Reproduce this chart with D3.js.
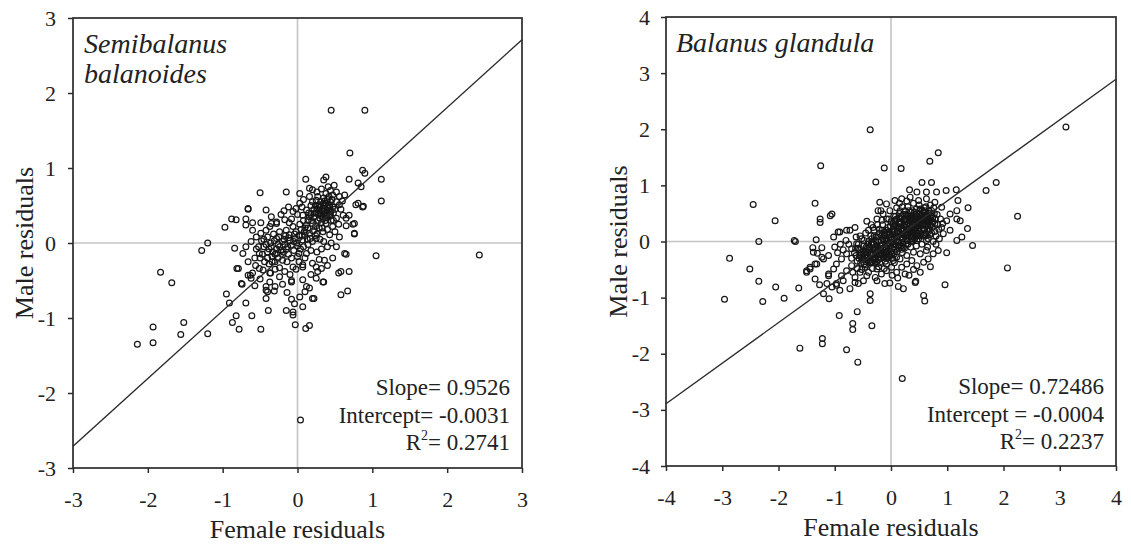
<!DOCTYPE html>
<html lang="en">
<head>
<meta charset="UTF-8">
<title>Male vs female residuals</title>
<script src="https://d3js.org/d3.v7.min.js"></script>
<style>
  body { margin: 0; background: #fff; }
  svg { display: block; font-family: 'Liberation Serif', 'Times New Roman', serif; }
</style>
</head>
<body>
<svg id="chart" width="1131" height="546"></svg>
<script>
// ---- data ----
const semiTicks = [-3, -2, -1, 0, 1, 2, 3];
const glandTicks = [-4, -3, -2, -1, 0, 1, 2, 3, 4];

// Semibalanus balanoides: [female residual, male residual]
const semiPoints = [
  [-0.50,0.67],[-0.15,0.68],[0.11,0.85],[-0.66,0.45],[-0.42,0.44],[-0.18,0.43],[-0.69,0.32],[-0.88,0.32],[-0.97,0.21],[-0.82,0.31],
  [-1.20,0.00],[-1.28,-0.10],[-1.83,-0.39],[-0.60,0.27],[-0.55,0.08],[-0.81,-0.34],[-1.68,-0.53],[-0.95,-0.68],[-0.91,-0.80],[-0.69,-0.80],
  [-0.82,-0.97],[-0.87,-1.06],[-0.78,-1.15],[-0.61,-0.97],[-0.49,-1.15],[-0.39,-0.90],[-1.20,-1.21],[-1.52,-1.06],[-1.56,-1.22],[-1.93,-1.12],
  [-1.93,-1.33],[-2.14,-1.35],[0.04,-2.36],[-0.15,-0.90],[-0.03,-1.09],[0.11,-1.14],[0.16,-1.10],[-0.06,-0.96],[0.22,-0.74],[-0.08,-0.75],
  [-0.14,-0.66],[0.07,-0.85],[-0.24,-0.45],[-0.31,-0.64],[-0.42,-0.63],[-0.57,-0.57],[-0.74,-0.55],[-0.79,-0.34],[-0.63,-0.43],[-0.36,-0.40],
  [0.45,1.77],[0.90,1.77],[0.70,1.20],[0.87,0.97],[0.90,0.93],[0.69,0.85],[1.12,0.85],[1.12,0.56],[0.81,0.80],[0.88,0.49],
  [0.81,0.53],[0.76,0.26],[0.76,0.13],[0.65,-0.15],[1.05,-0.17],[2.43,-0.16],[0.58,-0.38],[0.69,-0.38],[0.38,0.88],[0.49,0.77],
  [0.58,-0.69],[0.67,-0.64],[0.34,-0.52],[0.20,-0.74],[-0.06,-0.92],[0.12,-0.58],[-0.08,-0.52],[0.25,-0.47],[0.07,-0.32],[-0.84,-0.07],
  [-0.04,-0.81],[0.03,-0.72],[-0.08,-0.50],[-0.42,-0.74],[-0.40,-0.65],[-0.37,-0.52],[-0.42,-0.58],[-0.75,-0.54],[-0.66,-0.43],[-0.62,-0.47],
  [-0.60,-0.40],[-0.51,-0.34],[-0.46,-0.36],[-0.37,-0.40],[0.07,-0.49],[0.16,-0.60],[0.35,-0.52],[0.27,-0.38],[0.32,-0.34],[0.36,-0.23],
  [0.20,-0.27],[0.25,-0.32],[0.29,-0.22],[0.07,-0.29],[-0.06,-0.32],[0.00,-0.18],[0.12,-0.14],[0.63,-0.14],[0.52,-0.05],[0.56,0.08],
  [0.65,0.23],[0.74,0.25],[0.76,0.12],[-0.20,-0.23],[-0.28,-0.14],[-0.35,-0.05],[-0.51,-0.14],[-0.57,-0.20],[-0.66,-0.25],[-0.69,-0.05],
  [-0.73,-0.14],[-0.49,0.13],[-0.42,0.17],[-0.37,0.22],[-0.28,0.26],[-0.69,0.24],[-0.60,0.17],[-0.28,0.06],[-0.20,0.02],[-0.11,0.11],
  [-0.02,0.15],[0.07,0.04],[0.16,0.13],[0.25,0.06],[0.34,0.15],[0.43,0.11],[0.47,0.22],[0.38,0.26],[0.29,0.20],[0.20,0.26],
  [0.12,0.24],[0.03,0.25],[-0.06,0.22],[-0.15,0.17],[0.35,0.84],[0.85,0.75],[0.03,0.66],[0.16,0.73],[0.20,0.71],[0.41,0.75],
  [0.38,0.66],[0.47,0.64],[0.56,0.62],[0.63,0.64],[0.78,0.51],[0.87,0.48],[0.69,0.37],[0.65,0.33],[0.25,0.57],[0.29,0.51],
  [0.34,0.46],[0.38,0.53],[0.43,0.42],[0.47,0.48],[0.52,0.55],[0.56,0.51],[0.16,0.62],[0.03,0.53],[-0.02,0.46],[-0.06,0.42],
  [-0.66,0.46],[0.07,0.37],[0.16,0.35],[0.25,0.40],[0.34,0.33],[0.43,0.37],[0.52,0.33],[0.61,0.37],[-0.28,0.28],[-0.17,0.31],
  [-0.11,0.27],[-0.49,0.27],[-0.35,0.26],[0.30,0.40],[0.33,0.43],[0.36,0.38],[0.39,0.44],[0.41,0.50],[0.44,0.55],[0.31,0.55],
  [0.35,0.60],[0.40,0.58],[0.28,0.30],[0.32,0.27],[0.45,0.30],[0.48,0.40],[0.22,0.45],[0.18,0.50],[0.12,0.44],[0.08,0.30],
  [0.14,0.20],[0.21,0.16],[0.24,0.22],[0.10,0.10],[0.05,0.18],[-0.03,0.06],[0.00,-0.04],[-0.08,-0.03],[-0.15,-0.08],[-0.22,-0.10],
  [-0.26,-0.02],[-0.31,0.03],[-0.18,0.05],[-0.12,-0.15],[-0.05,-0.10],[0.04,-0.08],[0.14,-0.02],[0.20,0.02],[0.30,0.05],[0.35,0.02],
  [0.40,-0.05],[0.45,0.00],[0.50,0.15],[0.55,0.25],[0.58,0.45],[0.60,0.56],[-0.40,-0.12],[-0.45,-0.05],[-0.50,-0.20],[-0.44,-0.25],
  [-0.38,-0.28],[-0.30,-0.25],[-0.24,-0.33],[-0.17,-0.38],[-0.10,-0.42],[-0.02,-0.35],[0.02,-0.25],[0.10,-0.20],[0.18,-0.10],[0.26,-0.12],
  [0.32,-0.08],[-0.34,-0.18],[-0.55,-0.08],[-0.62,0.02],[-0.48,0.03],[-0.40,0.08],[-0.32,0.12],[-0.24,0.15],[-0.08,0.32],[0.00,0.38],
  [-0.12,0.48],[0.08,0.58],[0.26,0.68],[0.32,0.72],[0.44,0.70],[0.52,0.68],[-0.30,-0.58],[-0.20,-0.55],[-0.50,-0.48],[-0.56,-0.30],
  [0.40,-0.30],[0.47,-0.20],[0.55,-0.40],[0.18,-0.42],[0.10,-0.65],
  [0.22,0.35],[0.26,0.45],[0.28,0.38],[0.30,0.48],[0.33,0.35],[0.35,0.42],[0.37,0.30],[0.39,0.36],[0.42,0.46],[0.44,0.38],
  [0.46,0.58],[0.48,0.30],[0.50,0.45],[0.24,0.50],[0.27,0.62],[0.36,0.50],[0.42,0.62],[0.30,0.33],[0.18,0.38],[0.20,0.55],
  [0.14,0.30],[0.10,0.20],[0.06,0.10],[-0.01,0.00],[-0.04,0.12],[-0.10,0.03],[-0.13,-0.05],[-0.17,-0.02],[-0.20,-0.16],[-0.25,0.08],
  [-0.28,-0.08],[-0.33,-0.12],[-0.36,0.00],[-0.40,-0.20],[-0.45,0.05],[-0.47,-0.15],[-0.52,-0.05],[-0.30,-0.35],[-0.14,-0.25],[-0.08,-0.20],
  [0.02,-0.14],[0.08,-0.05],[0.17,0.06],[0.26,0.12],[0.33,0.20],[0.40,0.18],[-0.35,0.35],[-0.22,0.38],[0.06,0.48],[0.24,0.10],
  [0.31,0.37],[0.34,0.52],[0.38,0.40],[0.40,0.34],[0.43,0.50],[0.45,0.43],[0.29,0.44],[0.36,0.56],[0.27,0.50],[0.23,0.40],
  [0.19,0.30],[0.15,0.40],[-0.05,0.02],[-0.12,0.07],[-0.19,-0.12],[-0.24,-0.05],[-0.30,-0.15],[-0.38,-0.08],[-0.42,-0.02],[-0.16,0.10],
  [0.02,0.10],[0.09,0.15],[0.13,0.05],[-0.26,-0.20],[-0.34,-0.25]
];

// Balanus glandula: [female residual, male residual]
const glandPoints = [
  [-1.25,1.35],[-2.45,0.66],[-1.35,0.68],[-1.26,0.40],[-1.26,0.34],[-1.08,0.46],[-1.05,0.49],[-2.06,0.37],[-2.35,0.00],[-1.72,0.02],
  [-1.70,0.00],[-1.33,0.03],[-1.23,-0.11],[-2.87,-0.30],[-2.51,-0.49],[-0.37,1.99],[-0.94,0.17],[-0.79,0.20],[-0.64,0.25],[-0.43,0.36],
  [-1.39,-0.11],[-1.31,-0.21],[-1.20,-0.31],[-1.11,-0.25],[-1.50,-0.52],[-1.44,-0.46],[-1.35,-0.40],[-2.96,-1.03],[-2.28,-1.07],[-2.35,-0.71],
  [-2.05,-0.81],[-1.90,-1.01],[-1.64,-0.83],[-1.62,-1.90],[-1.22,-1.73],[-1.22,-1.82],[-0.92,-1.32],[-0.79,-1.93],[-0.59,-2.15],[-0.60,-1.25],
  [-0.68,-1.46],[-0.68,-1.57],[-1.35,-0.67],[-1.27,-0.77],[-1.11,-0.61],[-1.50,-0.55],[-1.44,-0.49],[-1.10,-1.02],[-1.20,-0.93],[-0.97,-0.78],
  [-0.91,-0.87],[-0.85,-0.70],[-0.73,-0.84],[-0.64,-0.73],[-0.37,-0.93],[-0.37,-1.05],[-0.34,-1.50],[0.43,-0.73],[0.58,-0.96],[0.60,-1.06],
  [0.96,-0.77],[1.45,-0.07],[2.07,-0.47],[0.99,-0.20],[0.84,-0.16],[0.13,-0.80],[0.22,-0.84],[-0.11,-0.75],[-0.02,-0.74],[-0.25,-0.70],
  [-0.28,-0.64],[-0.58,-0.75],[-0.49,-0.70],[-0.43,-0.61],[-1.14,-0.75],[-1.05,-0.81],[-0.97,-0.75],[-1.32,-0.40],[-1.23,-0.28],[-1.38,-0.19],
  [-1.11,-0.58],[-1.02,-0.49],[-0.97,-0.40],[-0.88,-0.31],[-0.79,-0.22],[-0.70,-0.13],[-0.61,-0.04],[-0.88,-0.61],[-0.79,-0.52],[-0.70,-0.43],
  [-0.64,-0.64],[-0.55,-0.55],[-0.46,-0.46],[-0.37,-0.37],[-0.28,-0.31],[-0.20,-0.22],[-0.11,-0.16],[-0.02,-0.07],[-0.25,-0.49],[-0.17,-0.58],
  [-0.08,-0.52],[0.01,-0.46],[0.10,-0.55],[0.19,-0.46],[0.28,-0.40],[0.37,-0.34],[0.46,-0.43],[0.58,-0.37],[0.66,-0.31],[0.75,-0.22],
  [0.63,-0.16],[0.52,-0.22],[0.40,-0.19],[0.28,-0.25],[0.16,-0.31],[0.04,-0.34],[-0.08,-0.40],[-0.12,1.31],[0.18,1.30],[-0.27,1.06],
  [0.69,1.43],[0.84,1.58],[0.55,1.05],[0.72,1.05],[1.87,1.05],[1.69,0.91],[0.33,0.92],[0.46,0.88],[0.63,0.88],[0.81,0.88],
  [0.98,0.91],[1.16,0.92],[1.37,0.60],[1.19,0.73],[1.17,0.55],[1.17,0.40],[1.23,0.37],[1.36,0.23],[1.26,0.08],[1.17,0.02],
  [1.05,0.49],[0.99,0.37],[0.90,0.25],[0.93,0.14],[1.05,0.20],[-0.20,0.70],[-0.08,0.67],[-0.23,0.55],[-0.14,0.49],[-0.73,0.20],
  [-0.91,0.17],[-1.02,0.08],[0.07,0.73],[0.19,0.76],[0.34,0.79],[0.49,0.73],[0.63,0.76],[0.78,0.70],[0.90,0.61],[3.11,2.04],
  [2.25,0.45],[0.44,-0.71],[0.20,-2.44],
  [-0.55,-0.25],[-0.50,-0.15],[-0.45,-0.30],[-0.42,-0.20],[-0.38,-0.10],[-0.35,-0.25],[-0.32,-0.15],[-0.30,-0.05],[-0.26,-0.20],[-0.24,-0.10],
  [-0.22,0.00],[-0.18,-0.30],[-0.16,-0.05],[-0.14,0.05],[-0.12,-0.25],[-0.10,0.10],[-0.08,-0.12],[-0.06,0.02],[-0.04,-0.28],[-0.02,0.12],
  [0.00,-0.18],[0.02,0.05],[0.04,-0.05],[0.06,0.18],[0.08,-0.15],[0.10,0.08],[0.12,0.25],[0.14,-0.02],[0.16,0.15],[0.18,0.32],
  [0.20,0.05],[0.22,0.22],[0.24,0.40],[0.26,0.12],[0.28,0.30],[0.30,-0.05],[0.32,0.20],[0.34,0.45],[0.36,0.08],[0.38,0.35],
  [0.40,0.15],[0.42,0.52],[0.44,0.25],[0.46,0.02],[0.48,0.40],[0.50,0.18],[0.52,0.58],[0.54,0.30],[0.56,0.10],[0.58,0.45],
  [0.60,0.22],[0.62,0.62],[0.64,0.35],[0.66,0.05],[0.68,0.50],[0.70,0.28],[0.72,0.15],[0.74,0.42],[0.76,0.60],[0.78,0.32],
  [0.80,0.10],[0.82,0.48],[0.85,0.22],[0.88,0.40],[-0.60,-0.35],[-0.65,-0.20],[-0.58,-0.05],[-0.52,0.05],[-0.48,-0.40],[-0.40,0.00],
  [-0.36,0.10],[-0.30,0.20],[-0.28,-0.38],[-0.20,0.15],[-0.15,0.30],[-0.10,-0.35],[-0.05,0.25],[0.00,0.35],[0.05,0.45],[0.08,0.30],
  [0.10,-0.28],[0.15,0.50],[0.20,-0.20],[0.25,0.55],[0.30,0.62],[0.35,-0.10],[0.40,0.68],[0.45,-0.08],[0.50,0.65],[0.55,-0.05],
  [0.60,0.55],[0.65,-0.10],[0.70,0.65],[0.75,0.00],[0.80,-0.05],[-0.45,0.15],[-0.55,0.10],[-0.62,0.08],[-0.70,-0.30],[-0.75,-0.05],
  [-0.80,0.02],[-0.85,-0.15],[-0.90,-0.05],[-0.95,-0.20],[-1.00,-0.10],[-0.68,-0.55],[-0.60,-0.48],[-0.52,-0.50],[-0.40,-0.55],[-0.33,-0.48],
  [-0.22,-0.45],[-0.12,-0.48],[0.02,-0.60],[0.12,-0.65],[0.25,-0.58],[0.32,-0.60],[0.40,-0.50],[0.52,-0.55],[0.70,-0.45],[-0.08,0.40],
  [-0.02,0.55],[0.10,0.60],[0.20,0.62],[0.15,0.68],[0.28,0.72],[-0.35,0.30],[-0.25,0.40],[-0.18,0.55],[0.06,-0.38],[0.18,-0.08],
  [0.24,0.00],[0.12,0.00],[0.28,0.10],[0.34,0.28],[0.22,0.38],[0.42,0.05],[0.46,0.32],[0.38,0.55],[0.52,0.42],[0.58,0.32],
  [0.62,0.15],[0.48,0.10],[0.32,0.38],[0.16,0.42],[0.04,0.22],[-0.06,0.15],[-0.16,0.20],[-0.26,0.08],[-0.33,-0.02],[-0.42,-0.12],
  [-0.48,-0.08],[-0.56,-0.15],[-0.62,-0.25],[-0.46,-0.25],[-0.38,-0.32],[-0.28,-0.28],[-0.18,-0.15],[-0.08,-0.22],[0.02,-0.12],[0.06,-0.22],
  [0.14,-0.12],[0.22,-0.10],[0.30,0.12],[0.36,0.18],[0.44,0.40],[0.50,0.50],[0.56,0.38],[0.66,0.42],[0.72,0.35],[0.68,0.22],
  [0.78,0.18],[0.86,0.05],[0.92,0.32],
  [-0.45,-0.18],[-0.41,-0.05],[-0.37,-0.22],[-0.34,0.05],[-0.31,-0.12],[-0.29,-0.33],[-0.27,0.02],[-0.23,-0.18],[-0.21,0.22],[-0.19,-0.08],
  [-0.17,0.10],[-0.13,-0.20],[-0.11,0.02],[-0.09,0.20],[-0.07,-0.30],[-0.03,-0.02],[-0.01,0.28],[0.01,-0.22],[0.03,0.12],[0.05,-0.10],
  [0.07,0.38],[0.09,0.02],[0.11,0.18],[0.13,-0.08],[0.15,0.32],[0.17,0.08],[0.19,0.45],[0.21,-0.02],[0.23,0.28],[0.25,0.15],
  [0.27,0.48],[0.29,0.02],[0.31,0.32],[0.33,0.10],[0.35,0.52],[0.37,0.25],[0.39,0.02],[0.41,0.42],[0.43,0.18],[0.45,0.58],
  [0.47,0.28],[0.49,0.05],[0.51,0.35],[0.53,0.12],[0.55,0.48],[0.57,0.22],[0.59,0.60],[0.61,0.38],[0.63,0.02],[0.65,0.28],
  [0.67,0.55],[0.69,0.12],[0.71,0.45],[0.73,0.25],[0.77,0.50],[0.79,0.40],[0.83,0.30],[-0.52,-0.32],[-0.48,0.02],[-0.44,-0.42],
  [-0.40,0.20],[-0.36,-0.38],[-0.32,0.25],[-0.28,-0.15],[-0.24,0.30],[-0.20,-0.38],[-0.16,0.38],[-0.12,0.12],[-0.08,0.05],[-0.04,0.40],
  [0.00,0.08],[0.04,0.32],[0.08,0.45],[0.12,0.10],[0.16,0.55],[0.20,0.20],[0.24,-0.12],[0.28,0.40],[0.32,0.55],[0.36,0.40],
  [0.40,0.30],[0.44,0.10],[0.48,0.22],[0.52,0.28],[0.56,0.55],[0.60,0.45],[0.64,0.48],[0.68,0.38],[0.72,0.55],[0.10,0.40],
  [0.14,0.35],[0.18,0.22],[0.22,0.12],[0.26,0.35],[0.30,0.22],[0.34,0.38],[0.38,0.12],[0.42,0.35],[0.46,0.45],[0.50,0.35],
  [0.54,0.40],[0.58,0.12],[-0.54,-0.38],[-0.58,-0.12],[-0.50,-0.28],[-0.44,-0.10],[-0.40,-0.35],[-0.36,-0.20],[-0.32,-0.30],[-0.30,0.10],
  [-0.26,-0.25],[-0.22,-0.32],[-0.18,0.02],[-0.14,-0.28],[-0.10,-0.10],[-0.06,-0.18],[-0.02,-0.25],[0.02,0.18],[0.06,0.08],[0.10,0.28],
  [0.14,0.25],[0.18,0.12],[0.22,0.48],[0.26,0.25],[0.30,0.45],[0.34,0.18],[0.38,0.45],[0.42,0.25],[0.46,0.15],[0.50,0.28],
  [0.54,0.22],[0.58,0.52],[0.62,0.28],[0.66,0.35],
  [-0.43,-0.27],[-0.39,-0.15],[-0.35,-0.02],[-0.31,-0.22],[-0.27,-0.10],[-0.23,0.08],[-0.19,-0.24],[-0.15,-0.12],[-0.11,0.16],[-0.07,-0.05],
  [-0.03,0.18],[0.01,-0.02],[0.05,0.26],[0.09,-0.06],[0.13,0.14],[0.17,0.36],[0.21,0.06],[0.25,0.30],[0.29,0.16],[0.33,0.42],
  [0.37,0.05],[0.41,0.22],[0.45,0.36],[0.49,0.14],[0.53,0.46],[0.57,0.30],[0.61,0.10],[0.65,0.45],[0.69,0.30],[0.73,0.48],
  [-0.47,-0.33],[-0.53,-0.20],[-0.57,-0.30],[-0.63,-0.12],[-0.49,-0.22],[-0.41,-0.28],[-0.33,-0.36],[-0.25,-0.36],[-0.17,-0.20],[-0.09,-0.28],
  [0.03,-0.30],[0.11,-0.18],[0.19,-0.14],[0.27,-0.05],[0.35,0.00],[0.43,0.48],[0.51,0.55],[0.59,0.38],[0.67,0.18],[0.75,0.35]
];

// fitted lines as drawn (end points)
const semiFit = [[-3, -2.71], [3, 2.71]];
const glandFit = [[-4, -2.89], [4, 2.89]];

const semiTitle = ["Semibalanus", "balanoides"];
const glandTitle = ["Balanus glandula"];
const semiStats = ["Slope= 0.9526", "Intercept= -0.0031", "= 0.2741"];
const glandStats = ["Slope= 0.72486", "Intercept = -0.0004", "= 0.2237"];

const svg = d3.select("#chart");
const ink = "#2b2b2b";

function drawPanel(cfg) {
    const g = svg.append("g").attr("transform", `translate(${cfg.left},${cfg.top})`);
    const x = d3.scaleLinear().domain(d3.extent(cfg.ticks)).range([0, cfg.w]);
    const y = d3.scaleLinear().domain(d3.extent(cfg.ticks)).range([cfg.h, 0]);

    // zero reference lines
    g.append("line").attr("x1", x(0)).attr("x2", x(0)).attr("y1", 0).attr("y2", cfg.h)
        .attr("stroke", "#c4c4c4").attr("stroke-width", 1.6);
    g.append("line").attr("x1", 0).attr("x2", cfg.w).attr("y1", y(0)).attr("y2", y(0))
        .attr("stroke", "#c4c4c4").attr("stroke-width", 1.6);

    // points
    g.append("g").selectAll("circle")
        .data(cfg.points)
        .enter().append("circle")
        .attr("cx", d => x(d[0]))
        .attr("cy", d => y(d[1]))
        .attr("r", 2.9)
        .attr("fill", "none")
        .attr("stroke", "#161616")
        .attr("stroke-width", 1.2);

    // regression line
    g.append("path")
        .datum(cfg.fit)
        .attr("d", d3.line().x(d => x(d[0])).y(d => y(d[1])))
        .attr("fill", "none")
        .attr("stroke", ink)
        .attr("stroke-width", 1.4);

    // axes
    const ax = g.append("g").attr("transform", `translate(0,${cfg.h})`)
        .call(d3.axisBottom(x).tickValues(cfg.ticks).tickFormat(d => String(d)).tickSize(5).tickPadding(18));
    const ay = g.append("g")
        .call(d3.axisLeft(y).tickValues(cfg.ticks).tickFormat(d => String(d)).tickSize(5).tickPadding(cfg.ypad));
    [ax, ay].forEach(a => {
        a.select(".domain").remove();
        a.selectAll("line").attr("stroke", ink).attr("stroke-width", 1.5);
        a.selectAll("text").attr("fill", "#222").style("font-size", "22px")
            .style("font-family", "'Liberation Serif', 'Times New Roman', serif");
    });

    // frame
    g.append("rect").attr("width", cfg.w).attr("height", cfg.h)
        .attr("fill", "none").attr("stroke", ink).attr("stroke-width", 1.7);

    // species name
    const t = g.append("text").attr("x", cfg.titleX).attr("y", 35)
        .attr("font-style", "italic").attr("font-size", 28).attr("fill", "#222");
    cfg.title.forEach((s, i) => t.append("tspan").attr("x", cfg.titleX).attr("dy", i ? 30 : 0).text(s));

    // statistics
    const sx = cfg.w - 12;
    const st = g.append("g").attr("font-size", 23).attr("fill", "#222").attr("text-anchor", "end");
    st.append("text").attr("x", sx).attr("y", 377).text(cfg.stats[0]);
    st.append("text").attr("x", sx).attr("y", 405).text(cfg.stats[1]);
    const r2 = st.append("text").attr("x", sx).attr("y", 432);
    r2.append("tspan").text("R");
    r2.append("tspan").attr("dy", -10).attr("font-size", 14).text("2");
    r2.append("tspan").attr("dy", 10).text(cfg.stats[2]);

    // axis titles
    g.append("text").attr("x", cfg.w / 2).attr("y", cfg.h + 70)
        .attr("text-anchor", "middle").attr("font-size", 26).attr("fill", "#222")
        .text("Female residuals");
    g.append("text")
        .attr("transform", `translate(${cfg.ylabX},${cfg.h / 2}) rotate(-90)`)
        .attr("text-anchor", "middle").attr("font-size", 26).attr("fill", "#222")
        .text("Male residuals");
}

drawPanel({ left: 73, top: 18, w: 449, h: 450, ticks: semiTicks, points: semiPoints, fit: semiFit,
    title: semiTitle, titleX: 11, stats: semiStats, ypad: 12, ylabX: -40 });
drawPanel({ left: 666, top: 17, w: 450, h: 449, ticks: glandTicks, points: glandPoints, fit: glandFit,
    title: glandTitle, titleX: 10, stats: glandStats, ypad: 11, ylabX: -39 });
</script>
</body>
</html>
